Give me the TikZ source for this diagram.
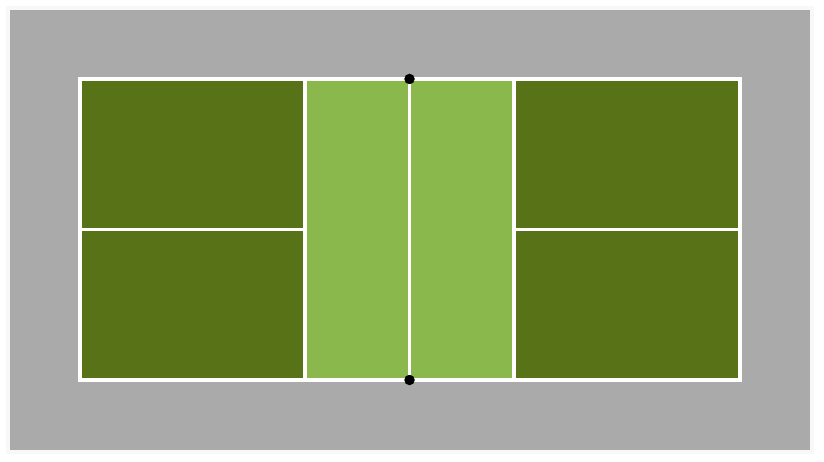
\documentclass[tikz,border=0pt]{standalone}
\usepackage{tikz}
\usetikzlibrary{positioning}

\definecolor{surround}{HTML}{AAAAAA}
\definecolor{shadow}{HTML}{F8F8F8}
\definecolor{backcourt}{HTML}{587317}
\definecolor{kitchen}{HTML}{8BB84C}

\tikzset{
  courtline/.style={draw=white, line width=3.8pt},
  netpost/.style={circle, fill=black, inner sep=0pt, minimum size=10.5pt},
}

\begin{document}
\begin{tikzpicture}[x=1pt, y=-1pt]

    \useasboundingbox (0,0) rectangle (824,462);

    % Draw the surround (grey area with faint shadow)
    \fill[shadow] (6,6) rectangle (814,454);
    \fill[surround] (10,10) rectangle (810,450);

    % Draw the back courts and the kitchen
    \fill[backcourt] (80,79) rectangle (305,380);
    \fill[backcourt] (514,79) rectangle (740,380);
    \fill[kitchen] (305,79) rectangle (514,380);

    % Named points of the court
    \coordinate (tl) at (80,79);
    \coordinate (br) at (740,380);
    \coordinate (kl top) at (305,79);
    \coordinate (kl bot) at (305,380);
    \coordinate (kr top) at (514,79);
    \coordinate (kr bot) at (514,380);
    \coordinate (cl left) at (80,229.5);
    \coordinate (cl right) at (305,229.5);
    \coordinate (cr left) at (514,229.5);
    \coordinate (cr right) at (740,229.5);

    % Draw the lines
    \draw[courtline] (tl) rectangle (br);
    \draw[courtline] (kl top) -- (kl bot);
    \draw[courtline] (kr top) -- (kr bot);
    \draw[courtline] (cl left) -- (cl right);
    \draw[courtline] (cr left) -- (cr right);

    % Draw the net with its posts
    \node[netpost] (post top) at (409.5,79) {};
    \node[netpost] (post bot) at (409.5,380) {};
    \draw[courtline] (post top) -- (post bot);

\end{tikzpicture}
\end{document}
